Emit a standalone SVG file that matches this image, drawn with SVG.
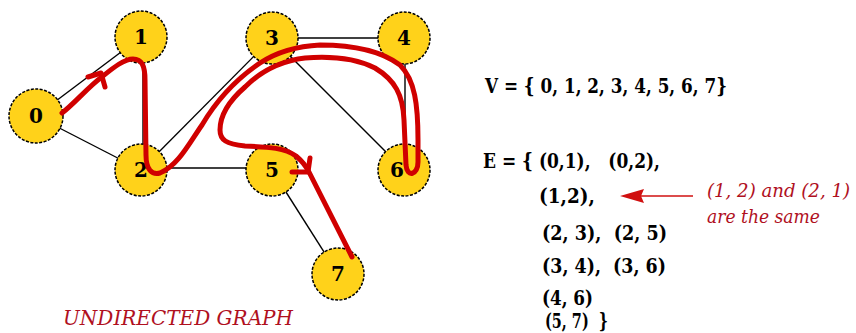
<svg xmlns="http://www.w3.org/2000/svg" width="856" height="333" viewBox="0 0 856 333">
<style>
.edge{stroke:#000;stroke-width:1.4;fill:none}
.node circle{fill:#FFD21A;stroke:#000;stroke-width:1.5;stroke-dasharray:3 1.5}
.node text{font-family:'DejaVu Serif',serif;font-weight:bold;font-size:20px;text-anchor:middle;fill:#000}
.walk{stroke:#D00000;stroke-width:5;fill:none;stroke-linecap:round;stroke-linejoin:round}
.set{font-family:'DejaVu Serif',serif;font-weight:bold;font-size:21px;fill:#000;white-space:pre}
.note{font-family:'DejaVu Serif',serif;font-style:italic;font-size:20px;fill:#B0101E}
.note.small{font-size:18.5px}
</style>
<rect width="856" height="333" fill="#fff"/>
<g id="connectors">
<line class="edge" x1="36" y1="116" x2="141" y2="37"/>
<line class="edge" x1="36" y1="116" x2="141" y2="170"/>
<line class="edge" x1="143" y1="40" x2="143" y2="168"/>
<line class="edge" x1="141" y1="170" x2="272" y2="38"/>
<line class="edge" x1="141" y1="168" x2="272" y2="168"/>
<line class="edge" x1="272" y1="38" x2="404" y2="38"/>
<line class="edge" x1="272" y1="38" x2="404" y2="170"/>
<line class="edge" x1="405" y1="38" x2="405" y2="170"/>
<line class="edge" x1="272" y1="170" x2="338" y2="274"/>
</g>
<g id="n0" class="node"><circle cx="36" cy="116" r="27"/><text x="36" y="123">0</text></g>
<g id="n1" class="node"><circle cx="141" cy="37" r="26"/><text x="141" y="44">1</text></g>
<g id="n2" class="node"><circle cx="141" cy="170" r="26"/><text x="141" y="177">2</text></g>
<g id="n3" class="node"><circle cx="272" cy="38" r="26"/><text x="272" y="45">3</text></g>
<g id="n4" class="node"><circle cx="404" cy="38" r="26"/><text x="404" y="45">4</text></g>
<g id="n5" class="node"><circle cx="272" cy="170" r="26"/><text x="272" y="177">5</text></g>
<g id="n6" class="node"><circle cx="404" cy="170" r="26"/><text x="397" y="177">6</text></g>
<g id="n7" class="node"><circle cx="338" cy="274" r="26"/><text x="338" y="281">7</text></g>
<g id="walk">
<path class="walk" d="M62,113 C75,103 88,87 103,76 C113,68 124,59 133,59 C142,59 145,66 145,80 L146,155 C146,170 152,175 160,173 C178,166 190,142 202,125 C215,103 232,82 260,63 C280,50 300,46 320,45 C350,45 380,50 400,65 C415,80 418,105 418,140 L418,162 C418,175 407,178 406,165 L404,120 C403,95 395,80 375,68 C355,58 330,56 305,58 C280,61 260,72 245,87 C230,100 220,115 220,130 C220,140 226,144 245,146 C270,147 285,148 296,156 C302,161 306,166 309,172 L352,257"/>
<path class="walk" d="M88,77 L101,73 L105,87"/>
<path class="walk" d="M292,172 L308,172 L310,158"/>
</g>
<text class="set" x="485" y="93" textLength="242" lengthAdjust="spacingAndGlyphs">V = { 0, 1, 2, 3, 4, 5, 6, 7}</text>
<text class="set" x="483" y="168" textLength="177" lengthAdjust="spacingAndGlyphs">E = { (0,1),   (0,2),</text>
<text class="set" x="539" y="203" textLength="56" lengthAdjust="spacingAndGlyphs">(1,2),</text>
<text class="set" x="542" y="240" textLength="125" lengthAdjust="spacingAndGlyphs">(2, 3),  (2, 5)</text>
<text class="set" x="542" y="273" textLength="124" lengthAdjust="spacingAndGlyphs">(3, 4),  (3, 6)</text>
<text class="set" x="542" y="305" textLength="51" lengthAdjust="spacingAndGlyphs">(4, 6)</text>
<text class="set" x="545" y="328" textLength="63" lengthAdjust="spacingAndGlyphs">(5, 7)  }</text>
<g id="arrow12">
<line x1="640" y1="196" x2="693" y2="196" stroke="#D01010" stroke-width="1.6"/>
<polygon points="620,196 644,189 641,196 644,203" fill="#D01010"/>
</g>
<text class="note small" x="707" y="197" textLength="143" lengthAdjust="spacingAndGlyphs">(1, 2) and (2, 1)</text>
<text class="note small" x="707" y="223" textLength="113" lengthAdjust="spacingAndGlyphs">are the same</text>
<text class="note" x="63" y="325" textLength="230" lengthAdjust="spacingAndGlyphs">UNDIRECTED GRAPH</text>
</svg>
